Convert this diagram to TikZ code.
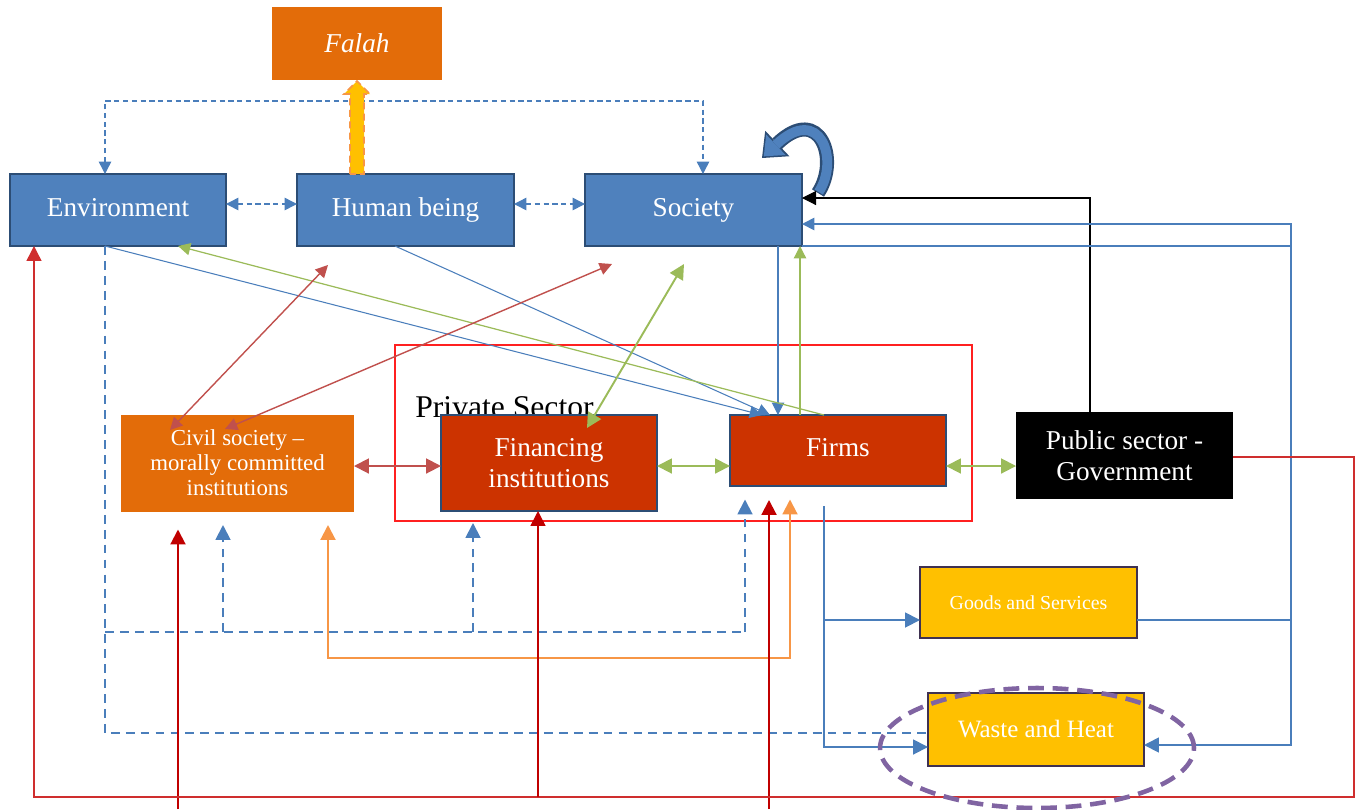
\documentclass[tikz,border=0pt]{standalone}
\usepackage{fontspec}
\setmainfont{Liberation Serif}
\usetikzlibrary{arrows.meta}

\definecolor{boxblue}{HTML}{4F81BD}
\definecolor{boxedge}{HTML}{2C4D75}
\definecolor{civorange}{HTML}{E36C09}
\definecolor{firmred}{HTML}{CC3300}
\definecolor{gold}{HTML}{FFC000}
\definecolor{goldedge}{HTML}{3F3151}
\definecolor{lgreen}{HTML}{9BBB59}
\definecolor{brick}{HTML}{C0504D}
\definecolor{dkred}{HTML}{C00000}
\definecolor{loopred}{HTML}{CF2E2E}
\definecolor{framered}{HTML}{FF2020}
\definecolor{lorange}{HTML}{F79646}
\definecolor{lpurple}{HTML}{8064A2}
\definecolor{lineblue}{HTML}{4A7EBB}

\begin{document}
\begin{tikzpicture}[x=0.02cm,y=-0.02cm,
  >={Triangle[length=7pt,width=7pt]},
  bigtip/.style={>={Triangle[length=8.5pt,width=8.5pt]}},
  box/.style={rectangle, text=white, align=center, inner sep=0pt, outer sep=0pt},
  bluebox/.style={box, fill=boxblue, draw=boxedge, line width=1.4pt,
    font=\fontsize{15.5}{18}\selectfont},
  redbox/.style={box, fill=firmred, draw=boxedge, line width=1.4pt,
    font=\fontsize{15.5}{18}\selectfont},
  goldbox/.style={box, fill=gold, draw=goldedge, line width=1.4pt},
  bthin/.style={lineblue, line width=0.6pt},
  bline/.style={lineblue, line width=1pt},
  bdashthin/.style={lineblue, line width=0.8pt, dash pattern=on 3pt off 2pt},
  bdash/.style={lineblue, line width=1.1pt, dash pattern=on 5pt off 3.5pt, bigtip},
  gthin/.style={lgreen, line width=0.7pt},
  gline/.style={lgreen, line width=1.1pt, bigtip},
  brthin/.style={brick, line width=0.8pt},
  brline/.style={brick, line width=1.1pt, bigtip},
  oline/.style={lorange, line width=1.2pt, bigtip},
  dred/.style={dkred, line width=1.2pt, bigtip},
  loopline/.style={loopred, line width=0.8pt, bigtip}
]
\useasboundingbox (0,0) rectangle (1362,809);

% private sector frame and its caption
\draw[framered, line width=0.9pt] (395,345) rectangle (972,521);
\node[anchor=base west, inner sep=0pt, font=\fontsize{18}{20}\selectfont] (privlbl)
  at (415,417) {Private Sector};

% boxes
\node[box, fill=civorange, minimum width=3.4cm, minimum height=1.46cm,
  font=\itshape\fontsize{15.5}{18}\selectfont] (fal) at (357,43.5) {Falah};
\node[bluebox, minimum width=4.32cm, minimum height=1.44cm] (env) at (118,210)
  {\raisebox{3pt}{Environment}};
\node[bluebox, minimum width=4.34cm, minimum height=1.44cm] (hum) at (405.5,210)
  {\raisebox{2pt}{Human being}};
\node[bluebox, minimum width=4.34cm, minimum height=1.44cm] (soc) at (693.5,210)
  {\raisebox{2pt}{Society}};
\node[box, fill=civorange, minimum width=4.66cm, minimum height=1.94cm,
  font=\fontsize{13}{14.3}\selectfont] (civ) at (237.5,463) {Civil society –\\morally committed\\institutions};
\node[redbox, minimum width=4.32cm, minimum height=1.92cm] (fin) at (549,463) {Financing\\institutions};
\node[redbox, minimum width=4.32cm, minimum height=1.42cm] (firms) at (838,450.5)
  {\raisebox{3pt}{Firms}};
\node[box, fill=black, minimum width=4.34cm, minimum height=1.74cm,
  font=\fontsize{15.5}{18}\selectfont] (pub) at (1124.5,455.5) {Public sector -\\Government};
\node[goldbox, minimum width=4.34cm, minimum height=1.42cm,
  font=\fontsize{11.3}{13}\selectfont] (goods) at (1028.5,602.5) {Goods and Services};
\node[goldbox, minimum width=4.32cm, minimum height=1.46cm,
  font=\fontsize{14.2}{16}\selectfont] (waste) at (1036,729.5) {Waste and Heat};

% guide points
\coordinate (tl) at (105,101);  \coordinate (tr) at (703,101);
\coordinate (kb) at (1090,198);
\coordinate (rA) at (1291,224); \coordinate (rB) at (1291,620); \coordinate (rC) at (1291,745);
\coordinate (fo) at (824,506);  \coordinate (fg) at (824,620);  \coordinate (fw) at (824,747);
\coordinate (dA) at (105,632);  \coordinate (dB) at (105,733);
\coordinate (dC) at (223,632);  \coordinate (dD) at (473,632);  \coordinate (dE) at (745,632);
\coordinate (oA) at (328,658);  \coordinate (oB) at (790,658);
\coordinate (rb1) at (178,809); \coordinate (rb2) at (769,809);
\coordinate (lA) at (1354,457); \coordinate (lB) at (1354,797);
\coordinate (lC) at (34,797);   \coordinate (lD) at (538,797);
\coordinate (fA) at (762,0);    \coordinate (fB) at (770,0);
\coordinate (hA) at (395,0);    \coordinate (sA) at (778,0);
\coordinate (eB) at (178,0);    \coordinate (gV) at (800,0);
\coordinate (gS) at (684,264);  \coordinate (gF) at (587,428);
\coordinate (cA) at (170,430);  \coordinate (cB) at (328,265);
\coordinate (cC) at (225,429);  \coordinate (cD) at (612,264);
\coordinate (mh) at (0,466);

% dashed links along the top row
\draw[bdashthin, <->] (env.north -| tl) -- (tl) -- (tr) -- (soc.north -| tr);
\draw[bdashthin, <->] ([yshift=0.12cm]env.east) -- ([yshift=0.12cm]hum.west);
\draw[bdashthin, <->] ([yshift=0.12cm]hum.east) -- ([yshift=0.12cm]soc.west);

% human being towards falah
\draw[fill=gold, draw=lorange, line width=1pt, dash pattern=on 4pt off 2.5pt]
  (350,174) -- (350,94) -- (344,94) -- (357,81) -- (370,94) -- (364,94) -- (364,174) -- cycle;

% society feeding back on itself
\draw[boxedge, line width=8pt,
  -{Triangle[length=12pt,width=20pt,line width=0pt]}]
  (818,193) .. controls (840,160) and (820,103) .. (762,158);
\draw[boxblue, line width=5.6pt, shorten >=1.4pt, shorten <=0.7pt,
  -{Triangle[length=9.5pt,width=16pt,line width=0pt]}]
  (818,193) .. controls (840,160) and (820,103) .. (762,158);

% government to society
\draw[black, line width=0.6pt, -{Triangle[length=8pt,width=8pt]}]
  (pub.north -| kb) -- (kb) -- (soc.east |- kb);

% right-hand return paths
\draw[bline, ->] (goods.east |- rB) -- (rB) -- (rA) -- (soc.east |- rA);
\draw[bline, bigtip, ->] (soc.south east) -- (soc.south east -| rA) -- (rC) -- (waste.east |- rC);

% firms output
\draw[bline, bigtip, ->] (fo) -- (fw) -- (waste.west |- fw);
\draw[bline, bigtip, ->] (fg) -- (goods.west |- fg);

% dashed environment links below
\draw[bdash] (env.south -| dB) -- (dB) -- (waste.west |- dB);
\draw[bdash] (dA) -- (dE);
\draw[bdash, ->, shorten >=0.27cm] (dC) -- (civ.south -| dC);
\draw[bdash, ->, shorten >=0.24cm] (dD) -- (fin.south -| dD);
\draw[bdash, ->, shorten >=0.27cm] (dE) -- (firms.south -| dE);

% civil society and firms
\draw[oline, <->, shorten <=0.27cm, shorten >=0.27cm]
  (civ.south -| oA) -- (oA) -- (oB) -- (firms.south -| oB);

% dark red inputs from below
\draw[dred, ->, shorten >=0.36cm] (rb1) -- (civ.south -| rb1);
\draw[dred, ->, shorten >=0.28cm] (rb2) -- (firms.south -| rb2);

% government loop
\draw[loopline, ->] (pub.east |- lA) -- (lA) -- (lB) -- (lC) -- (env.south -| lC);
\draw[dkred, line width=0.8pt, bigtip, ->] (lD) -- (fin.south -| lD);

% diagonal links
\draw[bthin, ->] (env.south -| dB) -- (firms.north -| fA);
\draw[bthin, ->] (hum.south -| hA) -- (firms.north -| fB);
\draw[bthin, ->] (soc.south -| sA) -- (firms.north -| sA);
\draw[gthin, ->] (firms.north -| fo) -- (env.south -| eB);
\draw[gthin, ->] (firms.north -| gV) -- (soc.south -| gV);
\draw[gline, <->] (gS) -- (gF);
\draw[brthin, <->] (cA) -- (cB);
\draw[brthin, <->] (cC) -- (cD);

% horizontal links across the middle row
\draw[brline, <->] (civ.east |- mh) -- (fin.west |- mh);
\draw[gline, <->] (fin.east |- mh) -- (firms.west |- mh);
\draw[gline, <->] (firms.east |- mh) -- (pub.west |- mh);

% highlight round waste and heat
\draw[lpurple, line width=2.6pt, dash pattern=on 9pt off 5pt]
  (1037,748) ellipse [x radius=3.14cm, y radius=1.2cm];
\end{tikzpicture}
\end{document}
